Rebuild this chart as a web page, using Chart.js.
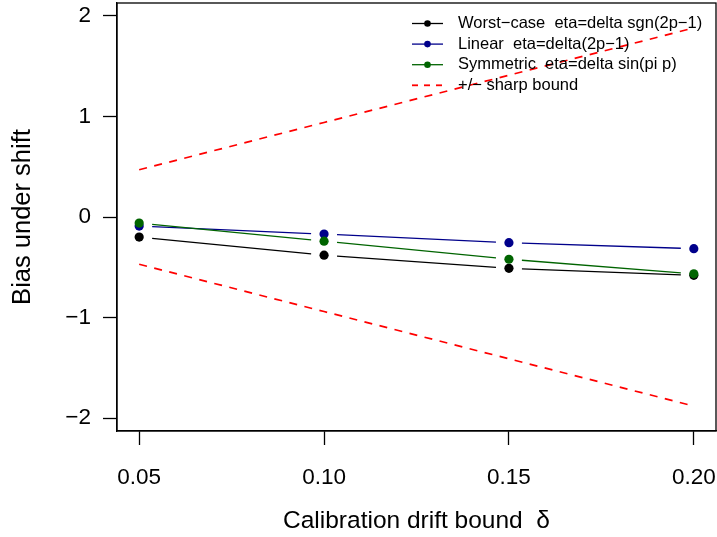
<!DOCTYPE html>
<html>
<head>
<meta charset="utf-8">
<title>Bias under shift</title>
<script src="https://cdn.jsdelivr.net/npm/chart.js@4.4.1/dist/chart.umd.min.js"></script>
<style>
    html, body { margin: 0; padding: 0; background: #fff; }
    #Bias__canvas { display: block; }
</style>
</head>
<body>
<canvas id="Bias__canvas" width="717" height="537"></canvas>
<script>
// drift bound values on the x axis
var deltas = [0.05, 0.10, 0.15, 0.20];
var deltaTicks = [0.05, 0.10, 0.15, 0.20];
var biasTicks = [-2, -1, 0, 1, 2];

// bias for each eta shape
var worstCaseBias = [-0.20, -0.38, -0.51, -0.58];
var linearBias = [-0.09, -0.17, -0.255, -0.315];
var symmetricBias = [-0.06, -0.24, -0.42, -0.565];
var sharpBound = [0.47, 0.94, 1.41, 1.88];

var FONT = '"Liberation Sans", Arial, Helvetica, sans-serif';

function toPoints(ys) {
    return deltas.map(function (d, i) { return { x: d, y: ys[i] }; });
}

function minusSign(v) {
    return v < 0 ? '\u2212' + Math.abs(v) : String(v);
}

//#region plugins
// lines between points, cut short around each point (type="b" look)
var gappedLines = {
    id: 'gappedLines',
    beforeDatasetsDraw: function (chart) {
        var ctx = chart.ctx;
        chart.data.datasets.forEach(function (ds, i) {
            if (!ds.gapLine) return;
            var pts = chart.getDatasetMeta(i).data;
            ctx.save();
            ctx.strokeStyle = ds.lineColor;
            ctx.lineWidth = 1.3;
            for (var k = 0; k < pts.length - 1; k++) {
                var a = pts[k], b = pts[k + 1];
                var dx = b.x - a.x, dy = b.y - a.y;
                var len = Math.sqrt(dx * dx + dy * dy);
                var ux = dx / len, uy = dy / len, g = 13;
                ctx.beginPath();
                ctx.moveTo(a.x + ux * g, a.y + uy * g);
                ctx.lineTo(b.x - ux * g, b.y - uy * g);
                ctx.stroke();
            }
            ctx.restore();
        });
    }
};

// box round the plot region
var plotBox = {
    id: 'plotBox',
    afterDraw: function (chart) {
        var a = chart.chartArea, ctx = chart.ctx;
        ctx.save();
        ctx.strokeStyle = '#000';
        ctx.lineWidth = 1.3;
        ctx.strokeRect(a.left, a.top, a.right - a.left, a.bottom - a.top);
        ctx.restore();
    }
};

// legend in the top right corner, no frame
var cornerLegend = {
    id: 'cornerLegend',
    afterDraw: function (chart) {
        var ctx = chart.ctx;
        var items = chart.data.datasets.filter(function (ds) { return ds.inLegend; });
        var x0 = 412, x1 = 443, tx = 458, y = 23.5, step = 20.6;
        ctx.save();
        ctx.font = '16.5px ' + FONT;
        ctx.textBaseline = 'middle';
        ctx.textAlign = 'left';
        items.forEach(function (ds) {
            ctx.strokeStyle = ds.lineColor;
            if (ds.gapLine) {
                ctx.lineWidth = 1.3;
                ctx.setLineDash([]);
            } else {
                ctx.lineWidth = 1.8;
                ctx.setLineDash([6, 6]);
            }
            ctx.beginPath();
            ctx.moveTo(x0, y);
            ctx.lineTo(x1, y);
            ctx.stroke();
            ctx.setLineDash([]);
            if (ds.gapLine) {
                ctx.fillStyle = ds.lineColor;
                ctx.beginPath();
                ctx.arc((x0 + x1) / 2, y, 3.3, 0, Math.PI * 2);
                ctx.fill();
            }
            ctx.fillStyle = '#000';
            ctx.fillText(ds.label, tx, y);
            y += step;
        });
        ctx.restore();
    }
};
//#endregion plugins

function seriesSet(label, ys, color, order) {
    return {
        label: label,
        data: toPoints(ys),
        showLine: false,
        gapLine: true,
        inLegend: true,
        lineColor: color,
        backgroundColor: color,
        borderColor: color,
        pointRadius: 4.6,
        pointBorderWidth: 0,
        order: order
    };
}

function boundSet(label, ys, inLegend) {
    return {
        label: label,
        data: toPoints(ys),
        showLine: true,
        inLegend: inLegend,
        lineColor: '#ff0000',
        borderColor: '#ff0000',
        borderWidth: 1.7,
        borderDash: [8, 7.5],
        pointRadius: 0,
        fill: false,
        tension: 0,
        order: 0
    };
}

function Bias_chart() {
    var ctr = document.getElementById('Bias__canvas');
    var chart = new Chart(ctr, {
        type: 'line',
        data: {
            datasets: [
                seriesSet('Worst\u2212case  eta=delta sgn(2p\u22121)', worstCaseBias, '#000000', 3),
                seriesSet('Linear  eta=delta(2p\u22121)', linearBias, '#00008b', 2),
                seriesSet('Symmetric  eta=delta sin(pi p)', symmetricBias, '#006400', 1),
                boundSet('+/\u2212 sharp bound', sharpBound, true),
                boundSet('lower bound', sharpBound.map(function (v) { return -v; }), false)
            ]
        },
        options: {
            responsive: false,
            animation: false,
            layout: {
                autoPadding: false,
                padding: { top: 3, right: 1, left: 0, bottom: 0 }
            },
            plugins: {
                legend: { display: false },
                tooltip: { enabled: false }
            },
            scales: {
                x: {
                    type: 'linear',
                    min: 0.044,
                    max: 0.206,
                    afterBuildTicks: function (scale) {
                        scale.ticks = deltaTicks.map(function (v) { return { value: v }; });
                    },
                    afterFit: function (scale) {
                        scale.height = 106;
                        scale.paddingLeft = 0;
                        scale.paddingRight = 0;
                    },
                    ticks: {
                        autoSkip: false,
                        maxRotation: 0,
                        padding: 19,
                        color: '#000',
                        font: { family: FONT, size: 22.5 },
                        callback: function (v) { return v.toFixed(2); }
                    },
                    grid: {
                        drawOnChartArea: false,
                        drawTicks: true,
                        tickLength: 14,
                        tickColor: '#000',
                        tickWidth: 1.3
                    },
                    border: { display: true, color: '#000', width: 1.3 },
                    title: {
                        display: true,
                        text: 'Calibration drift bound  \u03b4',
                        color: '#000',
                        font: { family: FONT, size: 24.5 },
                        padding: { top: 0, bottom: 1 }
                    }
                },
                y: {
                    type: 'linear',
                    min: -2.128,
                    max: 2.128,
                    afterBuildTicks: function (scale) {
                        scale.ticks = biasTicks.map(function (v) { return { value: v }; });
                    },
                    afterFit: function (scale) {
                        scale.width = 117;
                        scale.paddingTop = 0;
                        scale.paddingBottom = 0;
                    },
                    ticks: {
                        autoSkip: false,
                        padding: 12,
                        color: '#000',
                        font: { family: FONT, size: 22.5 },
                        callback: function (v) { return minusSign(v); }
                    },
                    grid: {
                        drawOnChartArea: false,
                        drawTicks: true,
                        tickLength: 14,
                        tickColor: '#000',
                        tickWidth: 1.3
                    },
                    border: { display: true, color: '#000', width: 1.3 },
                    title: {
                        display: true,
                        text: 'Bias under shift',
                        color: '#000',
                        font: { family: FONT, size: 25.5 },
                        padding: { top: 8, bottom: 0 }
                    }
                }
            }
        },
        plugins: [gappedLines, plotBox, cornerLegend]
    });
    return chart;
}

Bias_chart();
</script>
</body>
</html>
